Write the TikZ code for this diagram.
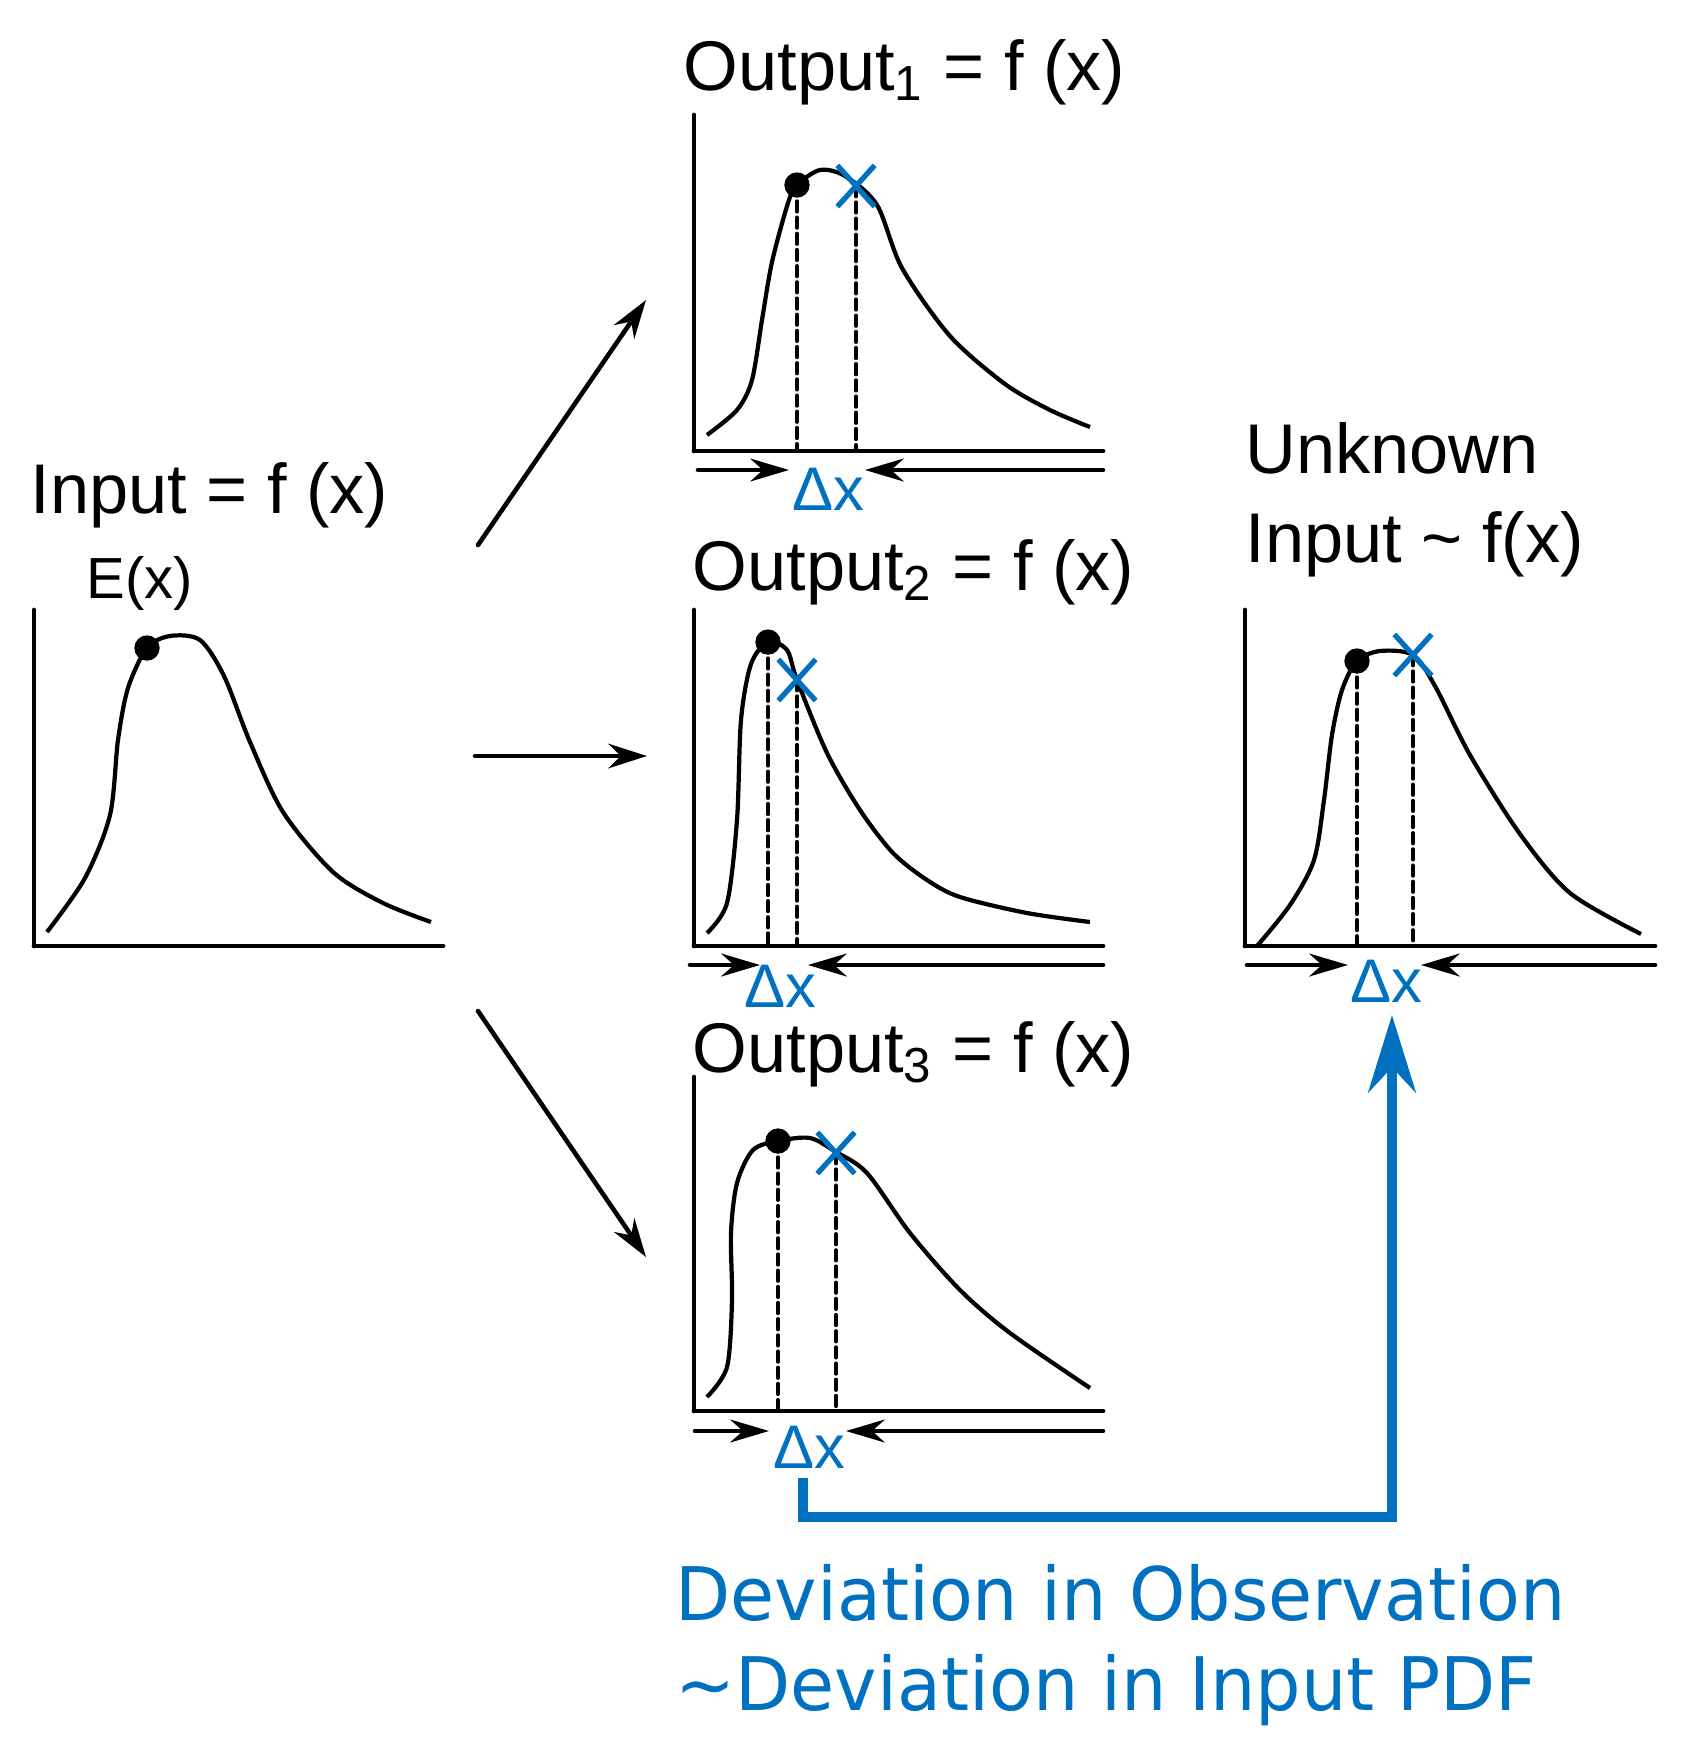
\documentclass[tikz,border=0pt]{standalone}
\usepackage{fontspec}
\usepackage{tkz-euclide}
\usetikzlibrary{arrows.meta,shapes.misc}
\setmainfont{Liberation Sans}
\newfontfamily\notefont[FakeStretch=0.97]{DejaVu Sans}
\definecolor{devblue}{RGB}{0,112,192}
\tikzset{
  axisline/.style={line width=1.35pt},
  pdfcurve/.style={line width=1.2pt},
  guide/.style={line width=1.05pt, dash pattern=on 3pt off 1.6pt},
  shiftarrow/.style={line width=1.3pt, -{Stealth[length=11pt,width=6.5pt]}},
  maparrow/.style={line width=1.3pt, -{Stealth[length=11pt,width=7pt]}},
  feedback/.style={devblue, line width=2.85pt, -{Stealth[length=22pt,width=13.5pt]}},
  title/.style={font=\fontsize{20}{24}\selectfont, inner sep=0pt, anchor=base west},
  dxlabel/.style={devblue, font=\fontsize{17.5}{21}\selectfont, inner sep=0pt, anchor=base},
  xmark/.style={cross out, draw=devblue, line width=1.5pt, minimum width=0.32cm, minimum height=0.36cm, inner sep=0pt},
  note/.style={devblue, font=\notefont\fontsize{21}{26}\selectfont, inner sep=0pt, anchor=base west}
}

\begin{document}
\begin{tikzpicture}[x=0.01cm, y=-0.01cm]
\useasboundingbox (0,0) rectangle (1681,1756);
% input pdf
\tkzDefPoints{34/610/IY, 34/946/IO, 443/946/IX, 147/648/IE}
\tkzDrawSegments[axisline](IY,IO IO,IX)
\draw[pdfcurve] plot[smooth] coordinates {(47,932) (85,878) (110,815) (118,740) (128,688) (147,648) (170,636) (200,640) (224,676) (250,742) (283,812) (333,872) (383,903) (431,922)};
\fill (IE) circle (3.6pt);
\node[title] (inp) at (30,513) {Input = f (x)};
\node[title, font=\fontsize{16.5}{20}\selectfont] (ex) at (86,598) {E(x)};

% output 1
\tkzDefPoints{694/115/AY, 694/451/AO, 1103/451/AX, 797/185/AE, 856/186/AM, 797/451/AE0, 856/451/AM0}
\tkzDefPoints{698/470/AL, 789/470/AP, 1103/470/AR, 865/470/AQ}
\tkzDrawSegments[axisline](AY,AO AO,AX)
\draw[pdfcurve] plot[smooth] coordinates {(707,435) (737,410) (752,380) (762,320) (772,262) (788,203) (797,185) (820,170) (845,176) (877,205) (902,268) (950,336) (1005,384) (1050,410) (1090,427)};
\tkzDrawSegments[guide](AE,AE0 AM,AM0)
\fill (AE) circle (3.6pt);
\node[xmark] (m1) at (AM) {};
\tkzDrawSegments[shiftarrow](AL,AP AR,AQ)
\node[dxlabel] (dx1) at (828,510) {Δx};
\node[title] (out1) at (683,90) {Output\textsubscript{1} = f (x)};

% output 2
\tkzDefPoints{694/610/BY, 694/946/BO, 1103/946/BX, 768/642/BE, 797/680/BM, 768/946/BE0, 797/946/BM0}
\tkzDefPoints{690/965/BL, 760/965/BP, 1103/965/BR, 808/965/BQ}
\tkzDrawSegments[axisline](BY,BO BO,BX)
\draw[pdfcurve] plot[smooth] coordinates {(707,933) (727,903) (737,820) (741,720) (751,664) (768,642) (787,650) (797,680) (827,753) (860,810) (893,853) (927,880) (960,897) (1027,913) (1090,922)};
\tkzDrawSegments[guide](BE,BE0 BM,BM0)
\fill (BE) circle (3.6pt);
\node[xmark] (m2) at (BM) {};
\tkzDrawSegments[shiftarrow](BL,BP BR,BQ)
\node[dxlabel] (dx2) at (780,1007) {Δx};
\node[title] (out2) at (692,590) {Output\textsubscript{2} = f (x)};

% output 3
\tkzDefPoints{694/1077/CY, 694/1411/CO, 1103/1411/CX, 778/1141/CE, 836/1153/CM, 778/1411/CE0, 836/1411/CM0}
\tkzDefPoints{695/1431/CL, 769/1431/CP, 1103/1431/CR, 846/1431/CQ}
\tkzDrawSegments[axisline](CY,CO CO,CX)
\draw[pdfcurve] plot[smooth] coordinates {(707,1397) (727,1367) (732,1300) (731,1233) (737,1183) (753,1150) (778,1141) (810,1138) (836,1152) (867,1173) (910,1233) (960,1290) (1010,1333) (1090,1388)};
\tkzDrawSegments[guide](CE,CE0 CM,CM0)
\fill (CE) circle (3.6pt);
\node[xmark] (m3) at (CM) {};
\tkzDrawSegments[shiftarrow](CL,CP CR,CQ)
\node[dxlabel] (dx3) at (809,1468) {Δx};
\node[title] (out3) at (692,1072) {Output\textsubscript{3} = f (x)};

% unknown input
\tkzDefPoints{1245/610/UY, 1245/946/UO, 1655/946/UX, 1357/661/UE, 1413/655/UM, 1357/946/UE0, 1413/946/UM0}
\tkzDefPoints{1247/965/UL, 1348/965/UP, 1655/965/UR, 1421/965/UQ}
\tkzDrawSegments[axisline](UY,UO UO,UX)
\draw[pdfcurve] plot[smooth] coordinates {(1257,946) (1290,905) (1314,860) (1324,800) (1332,735) (1342,690) (1357,661) (1380,651) (1413,655) (1435,686) (1470,755) (1520,834) (1570,893) (1641,934)};
\tkzDrawSegments[guide](UE,UE0 UM,UM0)
\fill (UE) circle (3.6pt);
\node[xmark] (mu) at (UM) {};
\tkzDrawSegments[shiftarrow](UL,UP UR,UQ)
\node[dxlabel] (dxu) at (1386,1002) {Δx};
\node[title] (unk1) at (1245,473) {Unknown};
\node[title] (unk2) at (1245,562) {Input \textasciitilde{} f(x)};

% mapping arrows
\tkzDefPoints{478/545/P1, 646/300/Q1, 475/756/P2, 647/756/Q2, 478/1011/P3, 646/1257/Q3}
\tkzDrawSegments[maparrow](P1,Q1 P2,Q2 P3,Q3)

% deviation feedback
\tkzDefPoints{803/1478/FS, 803/1517/FB, 1392/1015/FT}
\draw[feedback] (FS) -- (FB) -| (FT);
\node[note] (note1) at (675,1620) {Deviation in Observation};
\node[note] (note2) at (675,1710) {\textasciitilde Deviation in Input PDF};
\end{tikzpicture}
\end{document}
